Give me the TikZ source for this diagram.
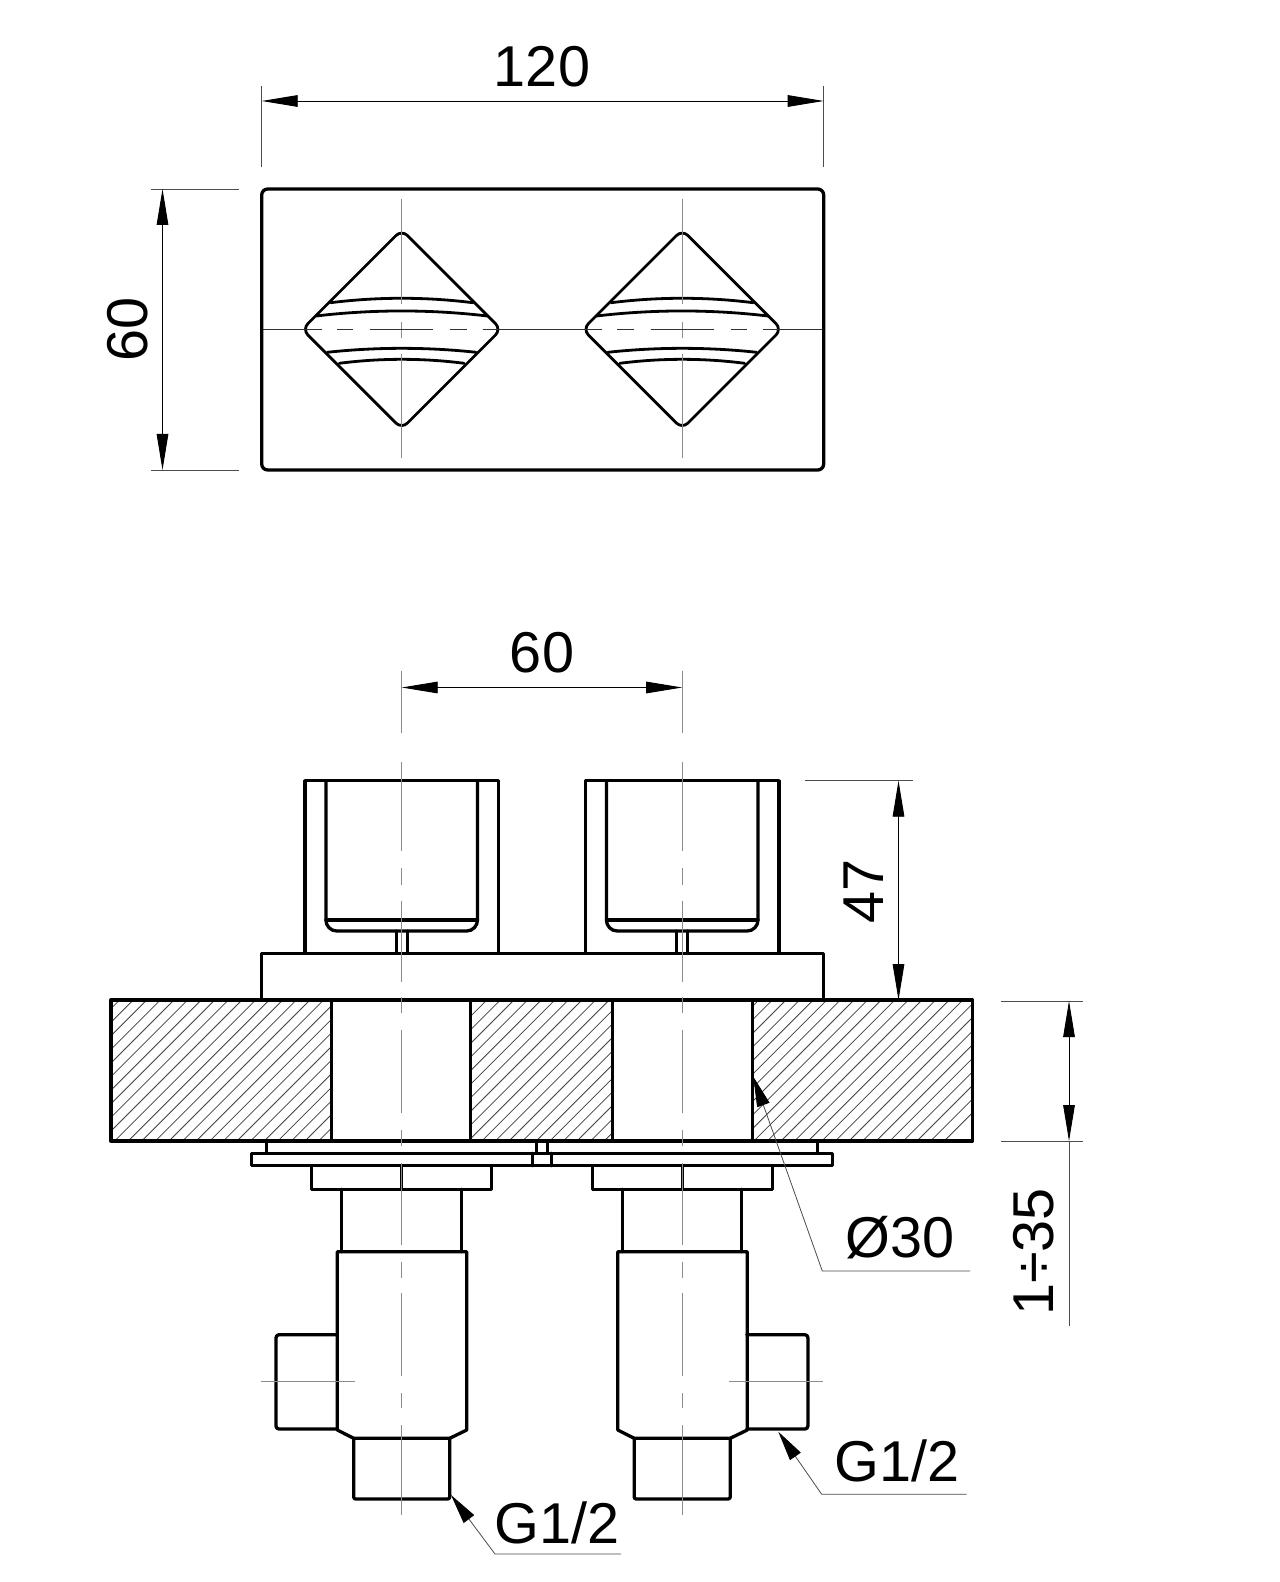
\documentclass[tikz,border=0pt]{standalone}
\usepackage{fontspec}
\setmainfont{Liberation Sans}
\usetikzlibrary{arrows.meta}
\tikzset{
  heavy/.style={line width=1.65pt,black,line join=round,line cap=round},
  medium/.style={line width=1.4pt,black,line join=round,line cap=round},
  thinl/.style={line width=0.5pt,black!80},
  centerl/.style={line width=0.7pt,black!45},
  extl/.style={line width=0.4pt,black!70},
  hatchl/.style={line width=0.4pt,black!75},
  dimtip/.style={-{Triangle[length=18pt,width=5.8pt,color=black]}},
  dimboth/.style={{Triangle[length=18pt,width=5.8pt,color=black]}-{Triangle[length=18pt,width=5.8pt,color=black]}},
  dimline/.style={line width=0.45pt,black},
  leaderl/.style={line width=0.4pt,black!70,{Triangle[length=15pt,width=6.5pt,color=black]}-},
  lbl/.style={font=\fontsize{28.8pt}{30pt}\selectfont,inner sep=0pt,text=black}
}
\begin{document}
\begin{tikzpicture}[x=0.5pt,y=-0.5pt]
\useasboundingbox (0,0) rectangle (1279,1582);
\fill[white] (0,0) rectangle (1279,1582);

% ---- top view ----
\draw[thinl] (261.7,329.3) -- (304.3,329.3) (499,329.3) -- (585,329.3) (780,329.3) -- (823.7,329.3);
\draw[heavy,rounded corners=3pt] (261.7,189) rectangle (823.7,470);
\foreach \cx in {401.7,682.2}{
 \begin{scope}[shift={(\cx,0)}]
  \draw[medium,rounded corners=4pt] (0,229.8) -- (99.5,329.3) -- (0,428.8) -- (-99.5,329.3) -- cycle;
  \draw[medium] (-71,302.7) .. controls (-24,296.8) and (24,296.8) .. (71,302.7);
  \draw[medium] (-85.7,316) .. controls (-29,309.3) and (29,309.3) .. (85.7,316);
  \draw[medium] (-74.4,352.3) .. controls (-25,347) and (25,347) .. (74.4,352.3);
  \draw[medium] (-62.4,363.3) .. controls (-21,358) and (21,358) .. (62.4,363.3);
  \draw[centerl] (0,199) -- (0,304) (0,321.7) -- (0,337.7) (0,354) -- (0,458);
  \draw[thinl] (-97.7,329.3) -- (-80,329.3) (-65,329.3) -- (-48.7,329.3) (-31.7,329.3) -- (31.7,329.3) (48.7,329.3) -- (65,329.3) (81,329.3) -- (97.7,329.3);
 \end{scope}
}
% dimension 120
\draw[extl] (261.7,86) -- (261.7,166.6) (823.7,86) -- (823.7,166.6);
\draw[dimline,dimboth] (261.7,101) -- (823.7,101);
\node[lbl] (t120) at (542,67) {120};
% dimension 60 (left)
\draw[extl] (151,189) -- (239,189) (151,470) -- (239,470);
\draw[dimline,dimboth] (162.5,189) -- (162.5,470);
\node[lbl,rotate=90] (t60a) at (128,329) {60};

% ---- hatching of the wall ----
\begin{scope}
 \clip (111,1000) rectangle (331.7,1141) (470.7,1000) rectangle (612.7,1141) (752.7,1000) rectangle (972.7,1141);
 \foreach \i in {0,...,72}{
  \draw[hatchl] ({-35+\i*13.6},1141) -- ++(141,-141);
 }
\end{scope}
\draw[heavy] (111,1000) rectangle (972.7,1141);
\draw[heavy] (331.7,1000) -- (331.7,1141) (470.7,1000) -- (470.7,1141) (612.7,1000) -- (612.7,1141) (752.7,1000) -- (752.7,1141);

% base plate
\draw[heavy] (261.7,1000) -- (261.7,953.3) -- (823.7,953.3) -- (823.7,1000);
% thin plates
\draw[heavy] (266.7,1141) -- (266.7,1153.3) (817.3,1141) -- (817.3,1153.3);
\draw[heavy] (251.7,1153.3) rectangle (832.7,1165.7);
\draw[heavy] (536.7,1141) -- (536.7,1153.3) (547.3,1141) -- (547.3,1153.3);
\draw[heavy] (532.7,1153.3) -- (532.7,1165.7) (551.7,1153.3) -- (551.7,1165.7);

\foreach \cx/\sd in {401.7/-1,682.2/1}{
 \begin{scope}[shift={(\cx,0)}]
  % handle
  \draw[heavy] (-96.7,953.3) -- (-96.7,780.7) -- (96.7,780.7) -- (96.7,953.3);
  \draw[heavy] (-75.8,780.7) -- (-75.8,920) .. controls (-75.8,926) and (-71,931) .. (-65,931) -- (65,931) .. controls (71,931) and (75.8,926) .. (75.8,920) -- (75.8,780.7);
  \draw[heavy] (-75.8,920) -- (75.8,920);
  \draw[heavy] (-5.5,931) -- (-5.5,953.3) (5.5,931) -- (5.5,953.3);
  % nut and stem
  \draw[heavy] (-90,1165.7) rectangle (90,1189.3);
  \draw[heavy] (0,1165.7) -- (0,1189.3);
  \draw[heavy] (-60,1189.3) -- (-60,1251.7) (59.5,1189.3) -- (59.5,1251.7);
  % body
  \draw[heavy] (-48,1438.3) -- (-64.4,1430) -- (-64.4,1251.7) -- (65,1251.7) -- (65,1430) -- (48,1438.3) -- cycle;
  % lower fitting
  \draw[heavy,rounded corners=1pt] (-48,1438.3) -- (-48,1499) -- (48,1499) -- (48,1438.3);
  % side fitting
  \begin{scope}[xscale=\sd]
   \draw[heavy,rounded corners=1.5pt] (64.6,1334.7) -- (125.7,1334.7) -- (125.7,1429) -- (64.6,1429);
   \draw[centerl] (46.7,1381.7) -- (141,1381.7);
  \end{scope}
  % axis
  \draw[centerl] (0,671) -- (0,733);
  \draw[centerl] (0,762) -- (0,850.7) (0,868) -- (0,885) (0,900.7) -- (0,982.3) (0,997) -- (0,1013) (0,1030) -- (0,1113) (0,1130) -- (0,1146) (0,1163) -- (0,1245) (0,1261.7) -- (0,1278) (0,1293) -- (0,1375.7) (0,1393) -- (0,1408) (0,1425) -- (0,1515);
 \end{scope}
}
% dimension 60 (lower)
\draw[dimline,dimboth] (401.7,687.5) -- (682.2,687.5);
\node[lbl] (t60b) at (542,653) {60};
% dimension 47
\draw[extl] (804.6,780.7) -- (912.6,780.7);
\draw[dimline,dimboth] (898.5,780.7) -- (898.5,1000);
\node[lbl,rotate=90] (t47) at (864,891) {47};
% dimension 1÷35
\draw[extl] (1001,1001) -- (1083,1001) (1001,1141) -- (1083,1141);
\draw[dimline,dimboth] (1069,1001) -- (1069,1141);
\draw[extl] (1069,1141) -- (1069,1325.5);
\node[lbl,rotate=90] (t135) at (1034,1252) {1÷35};
% leaders
\draw[leaderl] (753.3,1076.7) -- (822.3,1271) -- (970,1271);
\node[lbl] (td) at (900,1238) {Ø30};
\draw[leaderl] (778.3,1431.7) -- (821.7,1494.3) -- (966.7,1494.3);
\node[lbl] (tg1) at (897,1461) {G1/2};
\draw[leaderl] (451,1495) -- (495,1554) -- (621,1554);
\node[lbl] (tg2) at (557,1523) {G1/2};
\end{tikzpicture}
\end{document}
